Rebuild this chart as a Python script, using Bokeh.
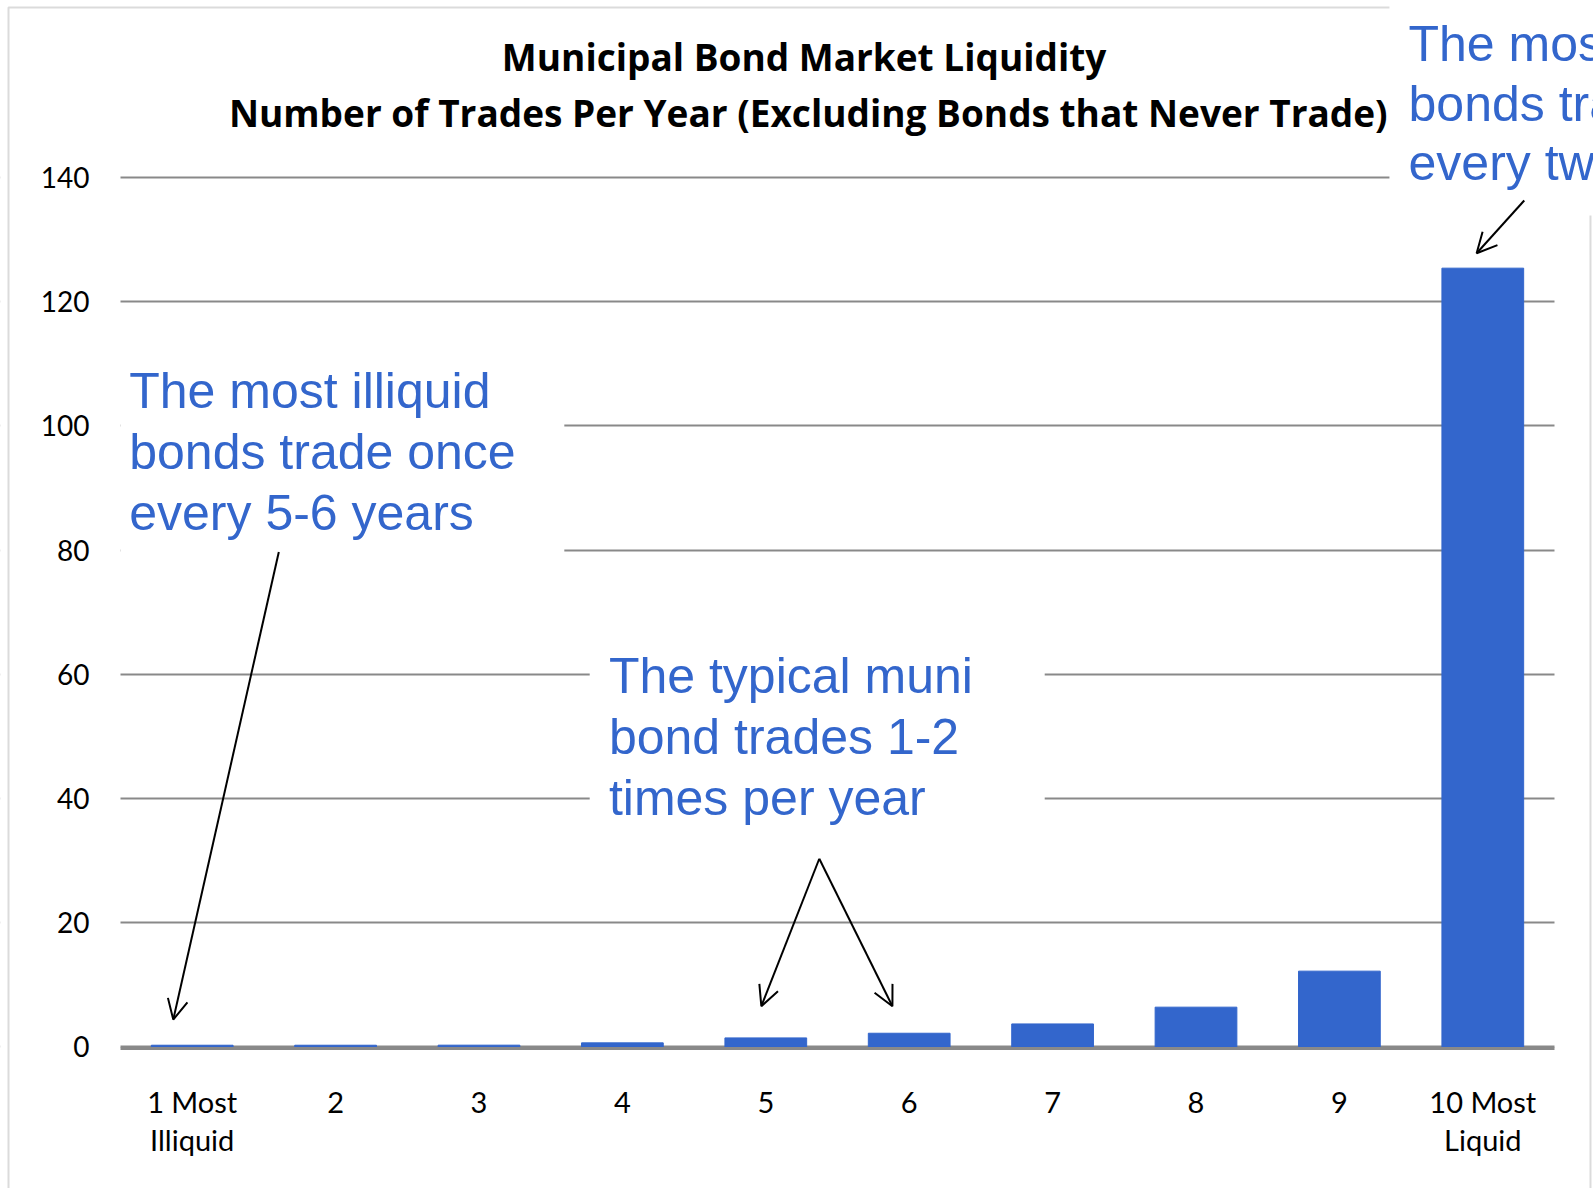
from bokeh.plotting import figure
from bokeh.models import (Range1d, FixedTicker, Label, Arrow, OpenHead,
                          BoxAnnotation, ColumnDataSource)
from bokeh.embed import file_html
from bokeh.resources import INLINE

# ---- data ----
categories = ["1 Most\nIlliquid", "2", "3", "4", "5", "6", "7", "8", "9", "10 Most\nLiquid"]
trades_per_year = [0.27, 0.27, 0.28, 0.65, 1.45, 2.2, 3.7, 6.4, 12.2, 125.4]
y_ticks = [0, 20, 40, 60, 80, 100, 120, 140]

title_lines = ["Municipal Bond Market Liquidity",
               "Number of Trades Per Year (Excluding Bonds that Never Trade)"]
note_illiquid = ["The most illiquid", "bonds trade once", "every 5-6 years"]
note_typical = ["The typical muni", "bond trades 1-2", "times per year"]
note_liquid = ["The most liquid", "bonds trade", "every two days"]

BLUE = "#3366CC"
GRAY = "#898989"

positions = list(range(1, len(categories) + 1))

# the plot frame fills the whole canvas; axes sit inside it at fixed locations
p = figure(x_range=Range1d(-0.3368, 10.772), y_range=Range1d(-22.80, 168.50),
           width=1593, height=1188, output_backend="svg", toolbar_location=None,
           title=None, min_border=0, min_border_left=0, min_border_right=0,
           min_border_top=0, min_border_bottom=0,
           background_fill_color="white", border_fill_color="white")
p.outline_line_color = None

src = ColumnDataSource(dict(x=positions, top=trades_per_year))
p.vbar(x="x", top="top", width=0.57, source=src, fill_color=BLUE, line_color=BLUE)

# axes
p.yaxis.fixed_location = 0.5
p.yaxis.ticker = FixedTicker(ticks=y_ticks)
p.yaxis.bounds = (0, 140)
p.yaxis.axis_line_color = None
p.yaxis.major_tick_line_color = None
p.yaxis.minor_tick_line_color = None
p.yaxis.major_label_standoff = 25
p.yaxis.major_label_text_font = "Lato"
p.yaxis.major_label_text_font_size = "28px"
p.yaxis.major_label_text_color = "black"

p.xaxis.fixed_location = -0.25
p.xaxis.ticker = FixedTicker(ticks=positions)
p.xaxis.bounds = (0.5, 10.5)
p.xaxis.major_label_overrides = dict(zip(positions, categories))
p.xaxis.axis_line_color = GRAY
p.xaxis.axis_line_width = 3
p.xaxis.major_tick_line_color = None
p.xaxis.minor_tick_line_color = None
p.xaxis.major_label_standoff = 30
p.xaxis.major_label_text_font = "Lato"
p.xaxis.major_label_text_font_size = "29px"
p.xaxis.major_label_text_line_height = 1.06
p.xaxis.major_label_text_color = "black"

p.xgrid.visible = False
p.ygrid.grid_line_color = GRAY
p.ygrid.grid_line_width = 2

def white_box(l, r, t, b):
    p.add_layout(BoxAnnotation(left=l, right=r, top=t, bottom=b, level="underlay",
                               fill_color="white", fill_alpha=1, line_color=None))

# keep gridlines within the chart area
white_box(-1, 0.5, 200, -40)
white_box(10.5, 12, 200, -40)

# outer chart border
p.add_layout(BoxAnnotation(left=-0.281, right=10.751, top=167.37, bottom=-40,
                           level="underlay", fill_color=None, line_color=GRAY, line_width=2))

# white text boxes hiding gridlines
white_box(0.5, 3.595, 110, 70)
white_box(3.772, 6.945, 70, 30)
white_box(9.349, 12, 200, 133.89)

# title
for txt, x, y in zip(title_lines, [5.267, 5.296], [159.45, 150.5]):
    p.add_layout(Label(x=x, y=y, text=txt, text_align="center", text_baseline="alphabetic",
                       text_font="Open Sans", text_font_style="bold", text_font_size="37px",
                       text_color="black"))

def add_note(lines, x, y0, pitch):
    for i, t in enumerate(lines):
        p.add_layout(Label(x=x, y=y0 - i * pitch, text=t, text_align="left",
                           text_baseline="alphabetic", text_font="Liberation Sans",
                           text_font_size="50px", text_color=BLUE))

add_note(note_illiquid, 0.561, 105.69, 9.82)
add_note(note_typical, 3.906, 59.65, 9.75)
add_note(note_liquid, 9.482, 161.47, 9.6)

# arrows
arrows = [(1.604, 79.7, 0.868, 4.4),
          (5.373, 30.3, 4.969, 6.55),
          (5.373, 30.3, 5.883, 6.55),
          (10.289, 136.3, 9.957, 127.8)]
for xs, ys, xe, ye in arrows:
    p.add_layout(Arrow(x_start=xs, y_start=ys, x_end=xe, y_end=ye, line_width=2,
                       line_color="black",
                       end=OpenHead(size=20, line_width=2, line_color="black")))

open("out.html", "w").write(file_html(p, INLINE))
